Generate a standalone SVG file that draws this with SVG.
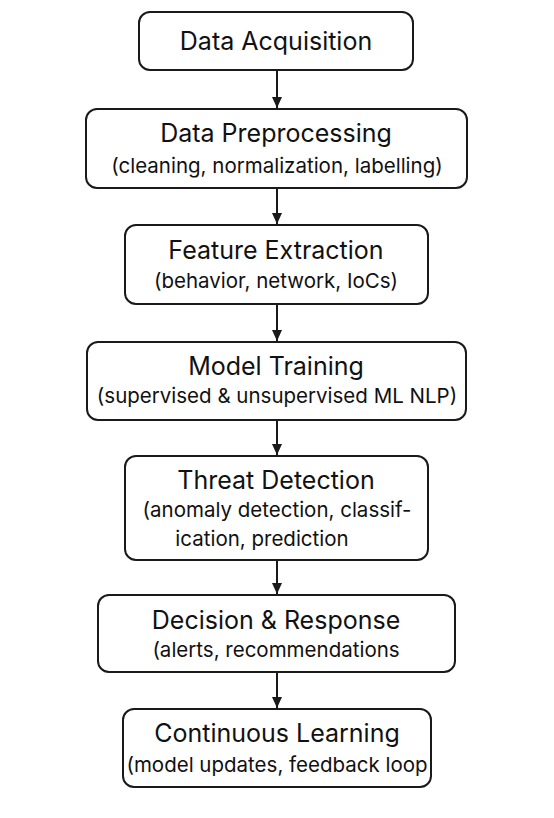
<svg xmlns="http://www.w3.org/2000/svg" width="554" height="818" viewBox="0 0 554 818">
<defs>
<marker id="ah" markerWidth="11" markerHeight="10" refX="11" refY="5" orient="auto" markerUnits="userSpaceOnUse" viewBox="0 0 11 10">
<path d="M0,0 L11,5 L0,10 Z" fill="#1a1a1a"/>
</marker>
</defs>
<style>
.box{fill:#ffffff;stroke:#1a1a1a;stroke-width:2}
.t{font-family:Inter,"Liberation Sans",sans-serif;font-size:25px;fill:#111;text-anchor:middle}
.s{font-family:Inter,"Liberation Sans",sans-serif;font-size:20.5px;fill:#111;text-anchor:middle}
.c{stroke:#1a1a1a;stroke-width:2;fill:none}
</style>
<rect width="554" height="818" fill="#ffffff"/>
<g id="connectors">
<line class="c" x1="277" y1="70" x2="277" y2="108" marker-end="url(#ah)"/>
<line class="c" x1="277" y1="188" x2="277" y2="224" marker-end="url(#ah)"/>
<line class="c" x1="277" y1="304" x2="277" y2="341" marker-end="url(#ah)"/>
<line class="c" x1="277" y1="420" x2="277" y2="455" marker-end="url(#ah)"/>
<line class="c" x1="277" y1="560" x2="277" y2="594" marker-end="url(#ah)"/>
<line class="c" x1="277" y1="672" x2="277" y2="708" marker-end="url(#ah)"/>
</g>
<g id="n1">
<rect class="box" x="139" y="12" width="274" height="58" rx="11"/>
<text class="t" x="276" y="50">Data Acquisition</text>
</g>
<g id="n2">
<rect class="box" x="86" y="109" width="381" height="79" rx="11"/>
<text class="t" x="276" y="142">Data Preprocessing</text>
<text class="s" x="277" y="173">(cleaning, normalization, labelling)</text>
</g>
<g id="n3">
<rect class="box" x="125" y="225" width="303" height="79" rx="11"/>
<text class="t" x="276" y="259">Feature Extraction</text>
<text class="s" x="276" y="288">(behavior, network, IoCs)</text>
</g>
<g id="n4">
<rect class="box" x="87" y="342" width="379" height="78" rx="11"/>
<text class="t" x="276" y="375">Model Training</text>
<text class="s" x="277" y="403">(supervised &amp; unsupervised ML NLP)</text>
</g>
<g id="n5">
<rect class="box" x="125" y="456" width="303" height="104" rx="11"/>
<text class="t" x="276" y="489">Threat Detection</text>
<text class="s" x="277" y="517">(anomaly detection, classif-</text>
<text class="s" x="262" y="546">ication, prediction</text>
</g>
<g id="n6">
<rect class="box" x="98" y="595" width="357" height="77" rx="11"/>
<text class="t" x="276" y="629">Decision &amp; Response</text>
<text class="s" x="276" y="657">(alerts, recommendations</text>
</g>
<g id="n7">
<rect class="box" x="123" y="709" width="308" height="78" rx="11"/>
<text class="t" x="277" y="742">Continuous Learning</text>
<text class="s" x="277" y="772">(model updates, feedback loop</text>
</g>
</svg>
